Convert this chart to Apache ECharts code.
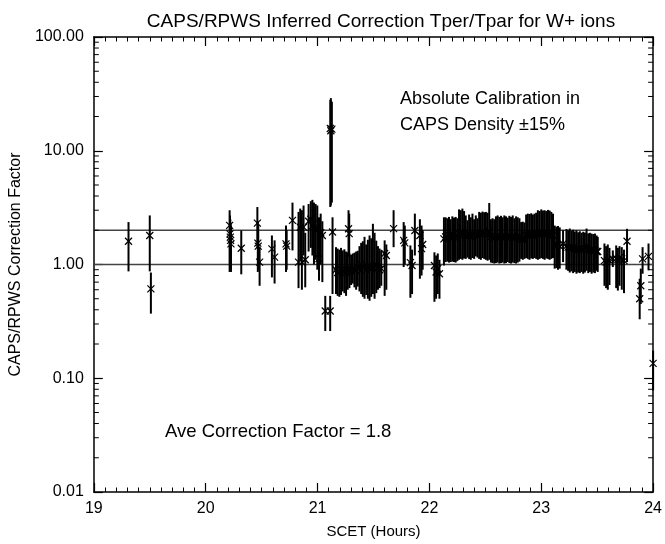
<!DOCTYPE html>
<html><head><meta charset="utf-8">
<script src="https://cdn.jsdelivr.net/npm/echarts@6/dist/echarts.min.js"></script>
<style>html,body{margin:0;padding:0;background:#fff}#c{width:665px;height:544px}</style>
</head><body><div id="c"></div>
<script>
// SCET hours of each measurement
const times = [
 19.31, 19.50, 19.51, 20.214, 20.217, 20.220, 20.223, 20.226, 20.318, 20.462, 20.466, 20.470, 20.482, 20.592, 20.616, 20.718, 20.724, 20.776,
 20.830, 20.845, 20.860, 20.875, 20.890, 20.920, 20.940, 20.954, 20.968, 20.983, 20.998, 21.013, 21.028, 21.043, 21.069, 21.113, 21.114, 21.119, 21.128, 21.134, 21.277, 21.283,
 21.165, 21.180, 21.195, 21.210, 21.225, 21.240, 21.255, 21.270, 21.285, 21.300, 21.315, 21.330, 21.345, 21.360, 21.375, 21.390, 21.405, 21.420, 21.435, 21.450, 21.465, 21.480, 21.495, 21.510, 21.525, 21.540, 21.555, 21.570,
 21.600, 21.615, 21.680, 21.770, 21.780, 21.830, 21.845, 21.870, 21.915, 21.930, 21.940, 22.045, 22.060, 22.075, 22.090, 22.130,
 22.145, 22.160, 22.175, 22.190, 22.205, 22.220, 22.235, 22.250, 22.265, 22.280, 22.295, 22.310, 22.325, 22.340, 22.355, 22.370, 22.385, 22.400, 22.415, 22.430, 22.445, 22.460, 22.475, 22.490, 22.505, 22.520, 22.535, 22.550, 22.565, 22.580, 22.595, 22.610, 22.625, 22.640, 22.655, 22.670, 22.685, 22.700, 22.715, 22.730, 22.745, 22.760, 22.775, 22.790, 22.805, 22.820, 22.835, 22.850, 22.865, 22.880, 22.895, 22.910, 22.925, 22.940, 22.955, 22.970, 22.985, 23.000, 23.015, 23.030, 23.045, 23.060, 23.075, 23.090, 23.105,
 23.120, 23.135, 23.150, 23.165, 23.195, 23.225, 23.240, 23.255, 23.270, 23.285, 23.300, 23.315, 23.330, 23.345, 23.360, 23.375, 23.390, 23.405, 23.420, 23.435, 23.450, 23.465, 23.480, 23.495, 23.505,
 23.565, 23.580, 23.595, 23.610, 23.640, 23.670, 23.685, 23.700, 23.720, 23.740, 23.767, 23.880, 23.890, 23.906, 23.959, 24.000
];
// correction factor (X marks)
const values = [
 1.60, 1.80, 0.61, 2.21, 1.86, 1.74, 1.63, 1.52, 1.39, 2.31, 1.54, 1.45, 1.05, 1.37, 1.16, 1.52, 1.45, 2.44,
 1.05, 2.13, 1.05, 2.13, 1.10, 2.40, 2.50, 2.20, 2.30, 2.00, 2.06, 1.13, 1.90, 1.80, 0.39, 0.39, 15.7, 15.0, 15.5, 1.93, 2.06, 1.87,
 0.90, 0.85, 0.87, 0.90, 0.88, 0.87, 0.85, 0.88, 0.90, 0.90, 0.92, 0.90, 0.88, 0.92, 0.95, 1.00, 0.95, 0.95, 0.90, 0.95, 0.93, 0.92, 0.95, 1.00, 0.97, 0.93, 0.90, 0.92,
 1.25, 1.20, 2.07, 1.63, 1.55, 1.04, 0.98, 1.99, 1.80, 1.38, 1.50, 0.98, 0.86, 0.92, 0.83, 1.68,
 1.75, 1.70, 1.80, 1.72, 1.78, 1.74, 1.80, 1.76, 1.85, 1.90, 1.88, 1.85, 1.80, 1.75, 1.82, 1.78, 1.85, 1.80, 1.84, 1.78, 1.88, 1.86, 1.90, 1.87, 1.85, 1.82, 1.95, 1.75, 1.72, 1.70, 1.75, 1.78, 1.74, 1.76, 1.72, 1.78, 1.75, 1.73, 1.77, 1.74, 1.78, 1.72, 1.75, 1.73, 1.72, 1.68, 1.66, 1.65, 1.80, 1.82, 1.80, 1.84, 1.80, 1.82, 1.84, 1.88, 1.86, 1.90, 1.87, 1.88, 1.85, 1.88, 1.86, 1.84, 1.80,
 1.45, 1.50, 1.48, 1.45, 1.52, 1.45, 1.42, 1.40, 1.38, 1.40, 1.36, 1.38, 1.35, 1.37, 1.34, 1.36, 1.38, 1.45, 1.35, 1.33, 1.32, 1.34, 1.33, 1.30, 1.30,
 1.08, 1.05, 1.10, 1.08, 1.12, 1.13, 1.10, 1.15, 1.12, 1.08, 1.60, 0.50, 0.65, 1.12, 1.18, 0.135
];
// lower end of error bar
const lows = [
 0.87, 0.87, 0.37, 0.86, 1.00, 1.00, 0.90, 0.86, 0.82, 1.40, 0.86, 0.90, 0.65, 0.77, 0.68, 0.86, 0.90, 1.33,
 0.62, 1.10, 0.60, 1.20, 0.63, 1.30, 1.40, 1.20, 1.00, 1.10, 0.90, 0.72, 1.00, 0.70, 0.26, 0.26, 3.2, 3.3, 3.5, 0.55, 1.16, 1.20,
 0.55, 0.53, 0.52, 0.54, 0.58, 0.56, 0.53, 0.60, 0.62, 0.66, 0.68, 0.63, 0.60, 0.64, 0.58, 0.55, 0.52, 0.50, 0.54, 0.50, 0.48, 0.52, 0.55, 0.50, 0.56, 0.60, 0.62, 0.65,
 0.53, 0.60, 1.42, 0.95, 1.00, 0.51, 0.55, 1.20, 0.75, 0.80, 0.90, 0.47, 0.50, 0.55, 0.50, 0.98,
 1.05, 1.06, 1.04, 1.05, 1.06, 1.05, 1.04, 1.07, 1.10, 1.12, 1.10, 1.13, 1.12, 1.15, 1.12, 1.10, 1.14, 1.12, 1.18, 1.15, 1.12, 1.10, 1.14, 1.12, 1.10, 1.08, 1.10, 1.04, 1.03, 1.02, 1.03, 1.04, 1.02, 1.03, 1.04, 1.02, 1.03, 1.05, 1.03, 1.02, 1.04, 1.03, 1.02, 1.04, 1.06, 1.12, 1.10, 1.12, 1.14, 1.12, 1.10, 1.13, 1.12, 1.14, 1.12, 1.10, 1.12, 1.14, 1.12, 1.10, 1.13, 1.12, 1.10, 1.12, 1.14,
 0.92, 0.93, 0.90, 0.92, 1.05, 0.90, 0.88, 0.85, 0.87, 0.84, 0.86, 0.83, 0.85, 0.84, 0.86, 0.83, 0.85, 0.88, 0.84, 0.86, 0.83, 0.85, 0.84, 0.88, 0.86,
 0.65, 0.62, 0.60, 0.66, 0.95, 0.62, 0.59, 0.65, 0.60, 0.56, 1.05, 0.33, 0.45, 0.83, 0.89, 0.078
];
// upper end of error bar
const highs = [
 2.36, 2.70, 0.85, 3.00, 2.70, 2.50, 2.30, 2.20, 1.99, 3.20, 2.40, 2.20, 1.42, 1.80, 1.63, 2.20, 2.00, 3.50,
 2.90, 3.10, 3.00, 3.30, 1.90, 3.40, 3.60, 3.70, 3.50, 3.40, 3.30, 2.60, 2.80, 2.40, 0.53, 0.53, 28.0, 29.0, 27.0, 2.60, 3.00, 2.80,
 1.42, 1.38, 1.35, 1.40, 1.33, 1.36, 1.30, 1.28, 1.25, 1.22, 1.25, 1.27, 1.30, 1.32, 1.45, 1.55, 1.60, 1.75, 1.50, 1.65, 1.80, 1.70, 2.28, 1.90, 1.62, 1.45, 1.38, 1.33,
 1.63, 1.50, 3.00, 2.36, 2.20, 1.47, 1.35, 2.80, 2.50, 2.20, 2.00, 1.28, 1.20, 1.25, 1.10, 2.60,
 2.60, 2.55, 2.62, 2.50, 2.65, 2.58, 2.62, 2.55, 3.05, 3.00, 3.10, 2.95, 2.70, 2.45, 2.75, 2.60, 2.80, 2.50, 2.70, 2.55, 2.90, 2.85, 2.92, 2.88, 2.90, 2.85, 3.47, 2.50, 2.55, 2.50, 2.65, 2.70, 2.62, 2.68, 2.60, 2.70, 2.65, 2.58, 2.68, 2.62, 2.70, 2.55, 2.65, 2.60, 2.55, 2.36, 2.38, 2.34, 2.75, 2.80, 2.78, 2.82, 2.75, 2.80, 2.85, 3.00, 2.95, 3.05, 2.98, 3.00, 2.95, 3.02, 2.98, 2.90, 2.80,
 2.20, 2.15, 2.18, 2.12, 2.00, 2.05, 2.00, 2.07, 1.98, 2.02, 1.95, 2.00, 1.92, 1.96, 1.90, 1.94, 1.91, 2.07, 1.88, 1.90, 1.87, 1.85, 1.87, 1.80, 1.75,
 1.53, 1.45, 1.50, 1.40, 1.33, 1.47, 1.40, 1.45, 1.42, 1.35, 2.06, 0.75, 0.92, 1.42, 1.53, 0.175
];
const refLevels = [1.0, 2.0];
const yDecades = [0.01, 0.1, 1, 10, 100];
const minorFactors = [2, 3, 4, 5, 6, 7, 8, 9];
const xRange = [19, 24];

const FONT = '"Liberation Sans", Arial, Helvetica, sans-serif';
const pts = times.map((t, i) => [t, values[i], lows[i], highs[i]]);
const minorVals = [];
for (let d = 0; d < yDecades.length - 1; d++) for (const f of minorFactors) minorVals.push([xRange[0], yDecades[d] * f]);

const chart = echarts.init(document.getElementById('c'));
const axisX = (pos, showLabel) => ({
  type: 'value', min: xRange[0], max: xRange[1], interval: 1, position: pos,
  axisLine: { show: true, onZero: false, lineStyle: { color: '#000', width: 1.5 } },
  axisTick: { show: true, inside: true, length: 9, lineStyle: { color: '#000', width: 1.2 } },
  minorTick: { show: true, splitNumber: 10, length: 4.5, lineStyle: { color: '#000', width: 1 } },
  splitLine: { show: false }, minorSplitLine: { show: false },
  axisLabel: { show: showLabel, color: '#000', fontSize: 16, fontFamily: FONT, margin: 9 },
  name: showLabel ? 'SCET (Hours)' : '', nameLocation: 'middle', nameGap: 32,
  nameTextStyle: { color: '#000', fontSize: 15, fontFamily: FONT }
});
const axisY = (pos, showLabel) => ({
  type: 'log', logBase: 10, min: 0.01, max: 100, position: pos, splitNumber: 4,
  axisLine: { show: true, onZero: false, lineStyle: { color: '#000', width: 1.5 } },
  axisTick: { show: true, inside: true, length: 9, lineStyle: { color: '#000', width: 1.2 } },
  splitLine: { show: false },
  axisLabel: { show: showLabel, color: '#000', fontSize: 16, fontFamily: FONT, margin: 10,
    formatter: v => Number(v).toFixed(2) },
  name: showLabel ? 'CAPS/RPWS Correction Factor' : '', nameLocation: 'middle', nameGap: 62, nameRotate: 90,
  nameTextStyle: { color: '#000', fontSize: 16, fontFamily: FONT }
});

chart.setOption({
  animation: false,
  backgroundColor: '#fff',
  grid: { left: 93, right: 8, top: 37, bottom: 52 },
  title: {
    text: 'CAPS/RPWS Inferred Correction Tper/Tpar for W+ ions', left: 376, top: 7, textAlign: 'center',
    textStyle: { color: '#000', fontSize: 19, fontWeight: 'normal', fontFamily: FONT }
  },
  xAxis: [axisX('bottom', true), axisX('top', false)],
  yAxis: [axisY('left', true), axisY('right', false)],
  graphic: [
    { type: 'text', left: 400, top: 90, style: { text: 'Absolute Calibration in', fill: '#000', font: '18px ' + FONT } },
    { type: 'text', left: 400, top: 116, style: { text: 'CAPS Density \u00b115%', fill: '#000', font: '18px ' + FONT } },
    { type: 'text', left: 165, top: 422, style: { text: 'Ave Correction Factor = 1.8', fill: '#000', font: '18.5px ' + FONT } }
  ],
  series: [
    ...refLevels.map(lv => ({
      type: 'line', data: [[xRange[0], lv], [xRange[1], lv]], symbol: 'none', silent: true,
      lineStyle: { color: '#444', width: 1.5 }, z: 1
    })),
    {
      type: 'custom', data: minorVals, silent: true, z: 3,
      renderItem: (params, api) => {
        const cs = params.coordSys;
        const y = api.coord([xRange[0], api.value(1)])[1];
        return { type: 'group', children: [
          { type: 'line', shape: { x1: cs.x, y1: y, x2: cs.x + 5, y2: y }, style: { stroke: '#000', lineWidth: 1 } },
          { type: 'line', shape: { x1: cs.x + cs.width - 5, y1: y, x2: cs.x + cs.width, y2: y }, style: { stroke: '#000', lineWidth: 1 } }
        ] };
      }
    },
    {
      type: 'custom', data: pts, encode: { x: 0, y: 1 }, z: 2, silent: true,
      renderItem: (params, api) => {
        const t = api.value(0);
        const p = api.coord([t, api.value(1)]);
        const lo = api.coord([t, api.value(2)]);
        const hi = api.coord([t, api.value(3)]);
        const s = 3.5;
        return { type: 'group', children: [
          { type: 'line', shape: { x1: lo[0], y1: lo[1], x2: hi[0], y2: hi[1] }, style: { stroke: '#000', lineWidth: 2 } },
          { type: 'line', shape: { x1: p[0] - s, y1: p[1] - s, x2: p[0] + s, y2: p[1] + s }, style: { stroke: '#000', lineWidth: 1.2 } },
          { type: 'line', shape: { x1: p[0] - s, y1: p[1] + s, x2: p[0] + s, y2: p[1] - s }, style: { stroke: '#000', lineWidth: 1.2 } }
        ] };
      }
    }
  ]
});
</script>
</body></html>
